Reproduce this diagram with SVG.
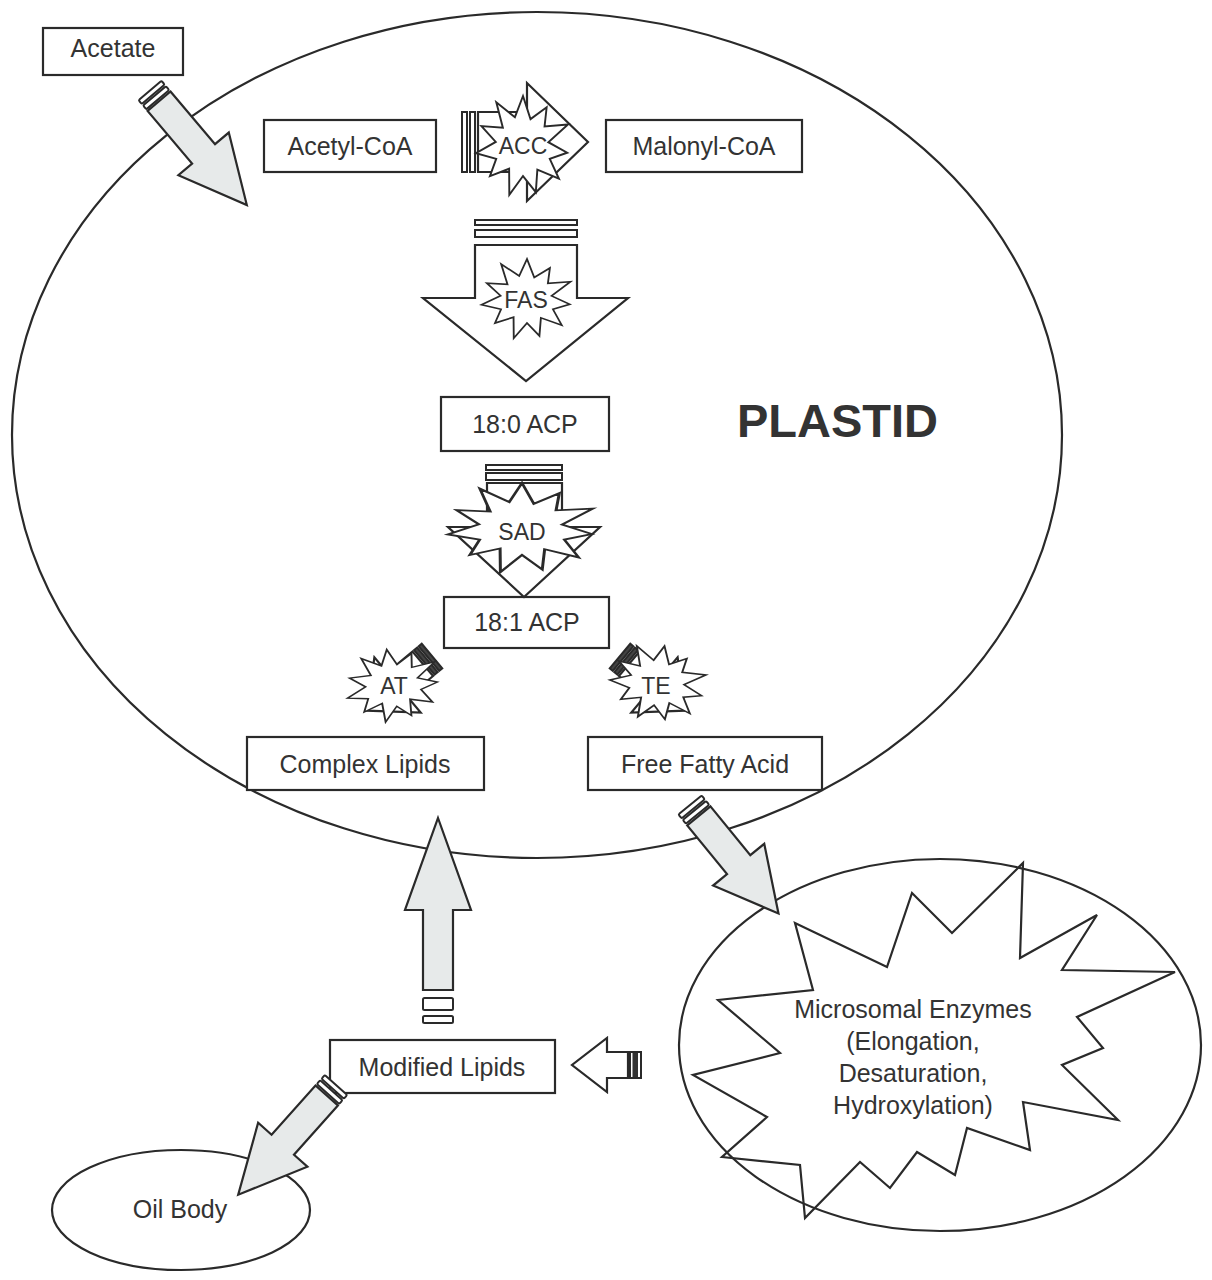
<svg xmlns="http://www.w3.org/2000/svg" width="1212" height="1280" viewBox="0 0 1212 1280">
<style>
.ln{fill:none;stroke:#2a2a2a;stroke-width:2.2;stroke-linejoin:miter}
.bx{fill:#fff;stroke:#2a2a2a;stroke-width:2.2}
.wa{fill:#fff;stroke:#2a2a2a;stroke-width:2.2;stroke-linejoin:miter}
.ga{fill:#e7eaea;stroke:#2a2a2a;stroke-width:2.2;stroke-linejoin:miter}
.bd{fill:#fff;stroke:#2a2a2a;stroke-width:2}
.dk{fill:#444;stroke:#2a2a2a;stroke-width:2}
.st{fill:#fff;stroke:#2a2a2a;stroke-width:2;vector-effect:non-scaling-stroke;stroke-linejoin:miter}
.t{font-family:"Liberation Sans",Arial,Helvetica,sans-serif;font-size:25px;fill:#333;text-anchor:middle}
.s{font-family:"Liberation Sans",Arial,Helvetica,sans-serif;font-size:23px;fill:#333;text-anchor:middle}
.big{font-family:"Liberation Sans",Arial,Helvetica,sans-serif;font-size:47px;font-weight:bold;fill:#333}
</style>
<defs>
<path id="star" d="M0,-50 L7.9,-26.9 L24.9,-38.7 L22.7,-19.6 L47.3,-21.6 L26.7,-3.8 L46.5,6.7 L28.2,12.9 L37.8,32.7 L15.1,23.6 L13.5,46.1 L0,30 L-14.4,48.9 L-14.6,22.7 L-34.8,30.1 L-28.2,12.9 L-49.5,7.1 L-28.7,-4.1 L-43.7,-19.9 L-21.2,-18.3 L-28.1,-43.7 L-8.5,-28.8 Z"/>
</defs>
<rect width="1212" height="1280" fill="#fff"/>

<g id="plastid">
<ellipse class="ln" cx="537" cy="435" rx="525" ry="423"/>
<text class="big" x="737" y="437">PLASTID</text>
</g>

<g id="microsome">
<ellipse class="ln" cx="940" cy="1045" rx="261" ry="186"/>
<polygon class="ln" points="1023,863 1020,958 1097,915 1062,970 1175,972 1077,1017 1103,1048 1062,1065 1118,1120 1023,1102 1030,1150 967,1128 955,1175 917,1152 890,1188 860,1162 805,1218 800,1165 722,1157 767,1117 693,1075 780,1053 718,1000 813,990 795,923 887,967 912,893 952,933"/>
<text class="t" x="913" y="1018">Microsomal Enzymes</text>
<text class="t" x="913" y="1050">(Elongation,</text>
<text class="t" x="913" y="1082">Desaturation,</text>
<text class="t" x="913" y="1114">Hydroxylation)</text>
</g>

<g id="oilbody">
<ellipse class="ln" cx="181" cy="1210" rx="129" ry="60"/>
<text class="t" x="180" y="1218">Oil Body</text>
</g>

<g id="acetate"><rect class="bx" x="43" y="28" width="140" height="47"/><text class="t" x="113" y="57">Acetate</text></g>
<g id="acetylcoa"><rect class="bx" x="264" y="120" width="172" height="52"/><text class="t" x="350" y="155">Acetyl-CoA</text></g>
<g id="malonylcoa"><rect class="bx" x="606" y="120" width="196" height="52"/><text class="t" x="704" y="155">Malonyl-CoA</text></g>
<g id="acp180"><rect class="bx" x="441" y="397" width="168" height="54"/><text class="t" x="525" y="433">18:0 ACP</text></g>
<g id="acp181"><rect class="bx" x="444" y="597" width="165" height="51"/><text class="t" x="527" y="631">18:1 ACP</text></g>
<g id="complexlipids"><rect class="bx" x="247" y="737" width="237" height="53"/><text class="t" x="365" y="773">Complex Lipids</text></g>
<g id="freefattyacid"><rect class="bx" x="588" y="737" width="234" height="53"/><text class="t" x="705" y="773">Free Fatty Acid</text></g>
<g id="modifiedlipids"><rect class="bx" x="330" y="1040" width="225" height="53"/><text class="t" x="442" y="1076">Modified Lipids</text></g>

<g id="connectors">
<g transform="translate(150,90.5) rotate(49.8)">
<rect class="bd" x="0" y="-15" width="5" height="30" rx="1.5"/>
<rect class="bd" x="7" y="-15" width="5" height="30" rx="1.5"/>
<path class="ga" d="M14,-15 H83 V-33 L150,0 L83,33 V15 H14 Z"/>
</g>
<g id="acc">
<rect class="bd" x="462" y="112" width="5" height="60"/>
<rect class="bd" x="470" y="112" width="5" height="60"/>
<path class="wa" d="M478,112 H527 V83 L588,142 L527,201 V172 H478 Z"/>
<use href="#star" class="st" transform="translate(523,146) scale(0.95,1)"/>
<text class="s" x="523" y="154">ACC</text>
</g>
<g id="fas">
<rect class="bd" x="475" y="220" width="102" height="5"/>
<rect class="bd" x="475" y="230" width="102" height="7"/>
<path class="wa" d="M475,245 H577 V298 H628 L526,381 L423,298 H475 Z"/>
<use href="#star" class="st" transform="translate(527,299) scale(0.92,0.8)"/>
<text class="s" x="526" y="308">FAS</text>
</g>
<g id="sad">
<rect class="bd" x="486" y="465" width="76" height="5"/>
<rect class="bd" x="486" y="473" width="76" height="7"/>
<path class="wa" d="M487,483 H562 V527 H600 L524,597 L448,527 H487 Z"/>
<use href="#star" class="st" transform="translate(522,528) scale(1.5,0.9)"/>
<text class="s" x="522" y="540">SAD</text>
</g>
<g id="at">
<g transform="translate(432,656) rotate(140)">
<rect class="dk" x="0" y="-16" width="4" height="32"/>
<rect class="dk" x="6" y="-16" width="4" height="32"/>
<path class="wa" d="M12,-16 H45 V-36 L85,0 L45,36 V16 H12 Z"/>
</g>
<use href="#star" class="st" transform="translate(393,685) rotate(-10) scale(0.95,0.72)"/>
<text class="s" x="394" y="694">AT</text>
</g>
<g id="te">
<g transform="translate(620,656) rotate(40)">
<rect class="dk" x="0" y="-16" width="4" height="32"/>
<rect class="dk" x="6" y="-16" width="4" height="32"/>
<path class="wa" d="M12,-16 H45 V-36 L85,0 L45,36 V16 H12 Z"/>
</g>
<use href="#star" class="st" transform="translate(658,683) rotate(10) scale(0.97,0.75)"/>
<text class="s" x="656" y="694">TE</text>
</g>
<g transform="translate(690,805) rotate(50.8)">
<rect class="bd" x="0" y="-15" width="5" height="30" rx="1.5"/>
<rect class="bd" x="7" y="-15" width="5" height="30" rx="1.5"/>
<path class="ga" d="M14,-15 H77 V-33 L140,0 L77,33 V15 H14 Z"/>
</g>
<rect class="bd" x="630" y="1052" width="11" height="26"/>
<rect x="632.5" y="1053" width="5.5" height="24" fill="#333"/>
<path class="wa" d="M628,1052 H607 V1038 L572,1065 L607,1092 V1078 H628 Z"/>
<rect class="bd" x="423" y="998" width="30" height="12" rx="1.5"/>
<rect class="bd" x="423" y="1016" width="30" height="7" rx="1.5"/>
<path class="ga" d="M438,818 L471,910 H453 V990 H423 V910 H405 Z"/>
<g transform="translate(336,1085) rotate(131.7)">
<rect class="bd" x="0" y="-15" width="5" height="30" rx="1.5"/>
<rect class="bd" x="7" y="-15" width="5" height="30" rx="1.5"/>
<path class="ga" d="M14,-15 H80 V-33 L147,0 L80,33 V15 H14 Z"/>
</g>
</g>
</svg>
